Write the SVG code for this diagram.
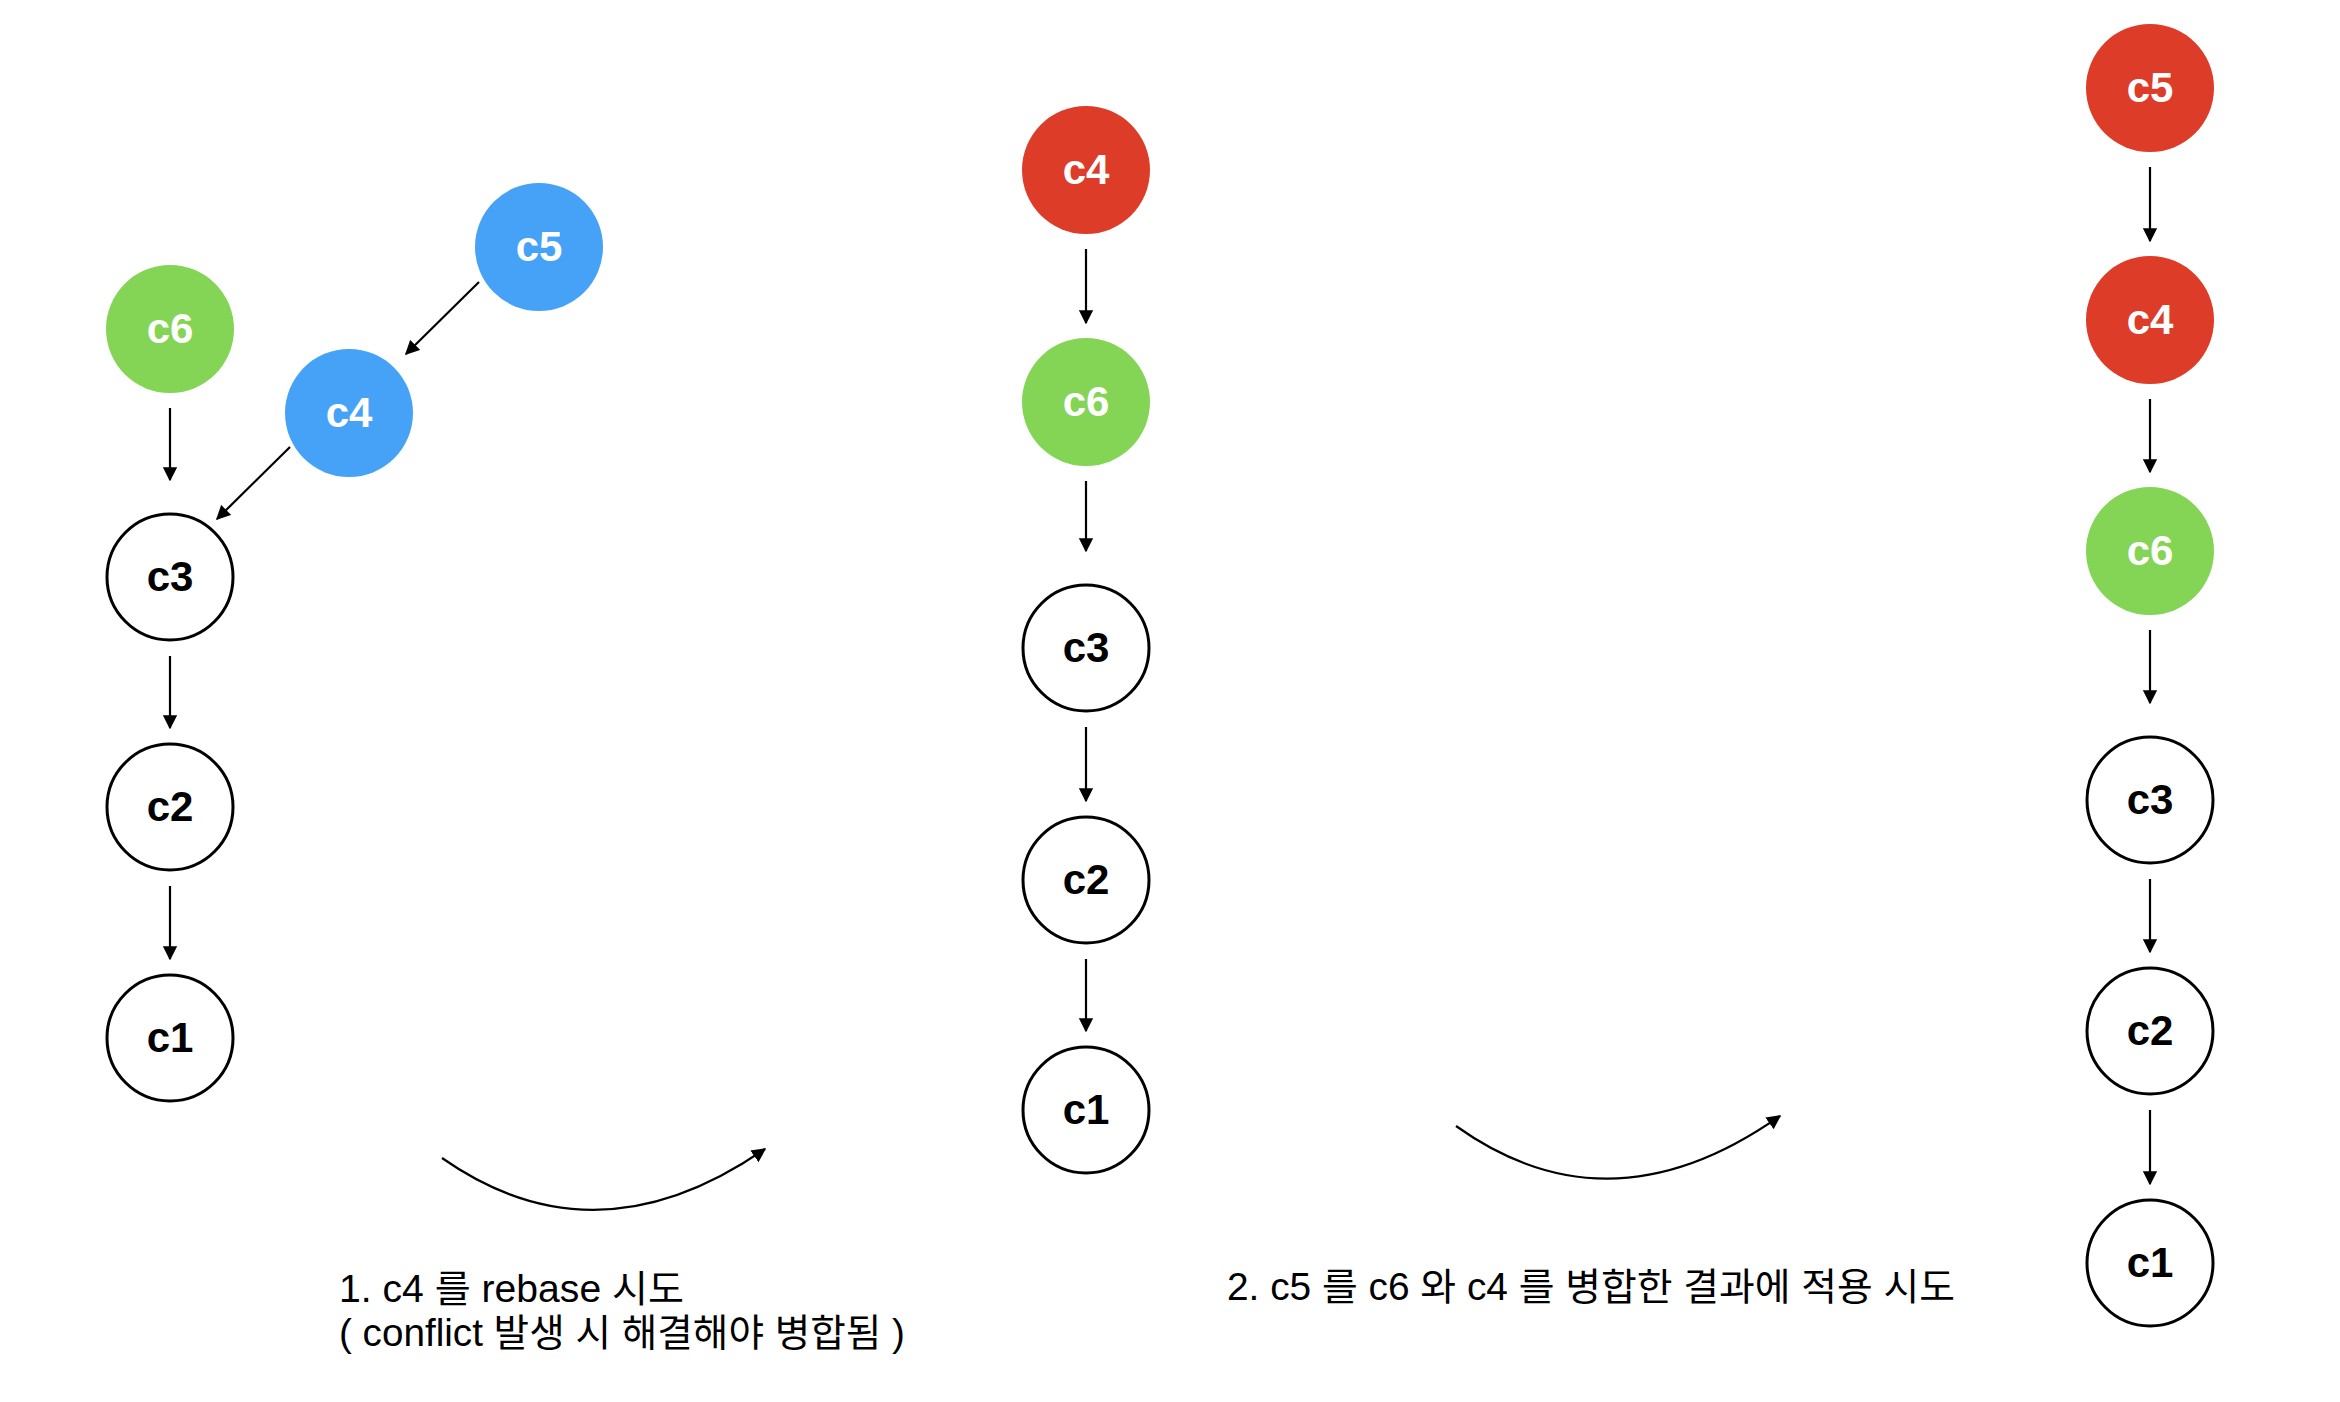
<svg xmlns="http://www.w3.org/2000/svg" width="2340" height="1402" viewBox="0 0 2340 1402">
<defs>
<style>
.w{fill:#fff;stroke:#000;stroke-width:3}
.g{fill:#84D455}
.b{fill:#46A2F7}
.r{fill:#DC3C28}
.lt{font-family:"Liberation Sans","Noto Sans",sans-serif;font-weight:bold;font-size:42px;text-anchor:middle}
.lw{fill:#fff}
.lk{fill:#000}
.e{stroke:#000;stroke-width:2.2;fill:none;marker-end:url(#ah)}
.cap{font-family:"Liberation Sans","Noto Sans CJK KR",sans-serif;font-size:38px;fill:#000}
</style>
<marker id="ah" viewBox="0 0 10 10" refX="9" refY="5" markerWidth="6.5" markerHeight="6.5" markerUnits="strokeWidth" orient="auto">
<path d="M0,0 L10,5 L0,10 z" fill="#000"/>
</marker>
</defs>
<rect width="2340" height="1402" fill="#fff"/>

<g id="connectors">
<line class="e" x1="170" y1="408" x2="170" y2="480"/>
<line class="e" x1="170" y1="656" x2="170" y2="728"/>
<line class="e" x1="170" y1="886" x2="170" y2="959"/>
<line class="e" x1="479" y1="282" x2="406" y2="354"/>
<line class="e" x1="290" y1="447" x2="217" y2="519"/>
<line class="e" x1="1086" y1="249" x2="1086" y2="323"/>
<line class="e" x1="1086" y1="481" x2="1086" y2="551"/>
<line class="e" x1="1086" y1="727" x2="1086" y2="801"/>
<line class="e" x1="1086" y1="959" x2="1086" y2="1031"/>
<line class="e" x1="2150" y1="167" x2="2150" y2="241"/>
<line class="e" x1="2150" y1="399" x2="2150" y2="472"/>
<line class="e" x1="2150" y1="630" x2="2150" y2="703"/>
<line class="e" x1="2150" y1="879" x2="2150" y2="952"/>
<line class="e" x1="2150" y1="1110" x2="2150" y2="1184"/>
<path class="e" d="M442,1158 Q596,1266 765,1149"/>
<path class="e" d="M1456,1126 Q1610,1236 1780,1116"/>
</g>

<g id="L-c6"><circle class="g" cx="170" cy="329" r="64"/><text class="lt lw" x="170" y="343">c6</text></g>
<g id="L-c5"><circle class="b" cx="539" cy="247" r="64"/><text class="lt lw" x="539" y="261">c5</text></g>
<g id="L-c4"><circle class="b" cx="349" cy="413" r="64"/><text class="lt lw" x="349" y="427">c4</text></g>
<g id="L-c3"><circle class="w" cx="170" cy="577" r="63"/><text class="lt lk" x="170" y="591">c3</text></g>
<g id="L-c2"><circle class="w" cx="170" cy="807" r="63"/><text class="lt lk" x="170" y="821">c2</text></g>
<g id="L-c1"><circle class="w" cx="170" cy="1038" r="63"/><text class="lt lk" x="170" y="1052">c1</text></g>

<g id="M-c4"><circle class="r" cx="1086" cy="170" r="64"/><text class="lt lw" x="1086" y="184">c4</text></g>
<g id="M-c6"><circle class="g" cx="1086" cy="402" r="64"/><text class="lt lw" x="1086" y="416">c6</text></g>
<g id="M-c3"><circle class="w" cx="1086" cy="648" r="63"/><text class="lt lk" x="1086" y="662">c3</text></g>
<g id="M-c2"><circle class="w" cx="1086" cy="880" r="63"/><text class="lt lk" x="1086" y="894">c2</text></g>
<g id="M-c1"><circle class="w" cx="1086" cy="1110" r="63"/><text class="lt lk" x="1086" y="1124">c1</text></g>

<g id="R-c5"><circle class="r" cx="2150" cy="88" r="64"/><text class="lt lw" x="2150" y="102">c5</text></g>
<g id="R-c4"><circle class="r" cx="2150" cy="320" r="64"/><text class="lt lw" x="2150" y="334">c4</text></g>
<g id="R-c6"><circle class="g" cx="2150" cy="551" r="64"/><text class="lt lw" x="2150" y="565">c6</text></g>
<g id="R-c3"><circle class="w" cx="2150" cy="800" r="63"/><text class="lt lk" x="2150" y="814">c3</text></g>
<g id="R-c2"><circle class="w" cx="2150" cy="1031" r="63"/><text class="lt lk" x="2150" y="1045">c2</text></g>
<g id="R-c1"><circle class="w" cx="2150" cy="1263" r="63"/><text class="lt lk" x="2150" y="1277">c1</text></g>

<g id="caption1">
<text class="cap" x="339" y="1302" textLength="345" lengthAdjust="spacingAndGlyphs">1. c4 를 rebase 시도</text>
<text class="cap" x="339" y="1346" textLength="566" lengthAdjust="spacingAndGlyphs">( conflict 발생 시 해결해야 병합됨 )</text>
</g>
<g id="caption2">
<text class="cap" x="1227" y="1300" textLength="728" lengthAdjust="spacingAndGlyphs">2. c5 를 c6 와 c4 를 병합한 결과에 적용 시도</text>
</g>
</svg>
